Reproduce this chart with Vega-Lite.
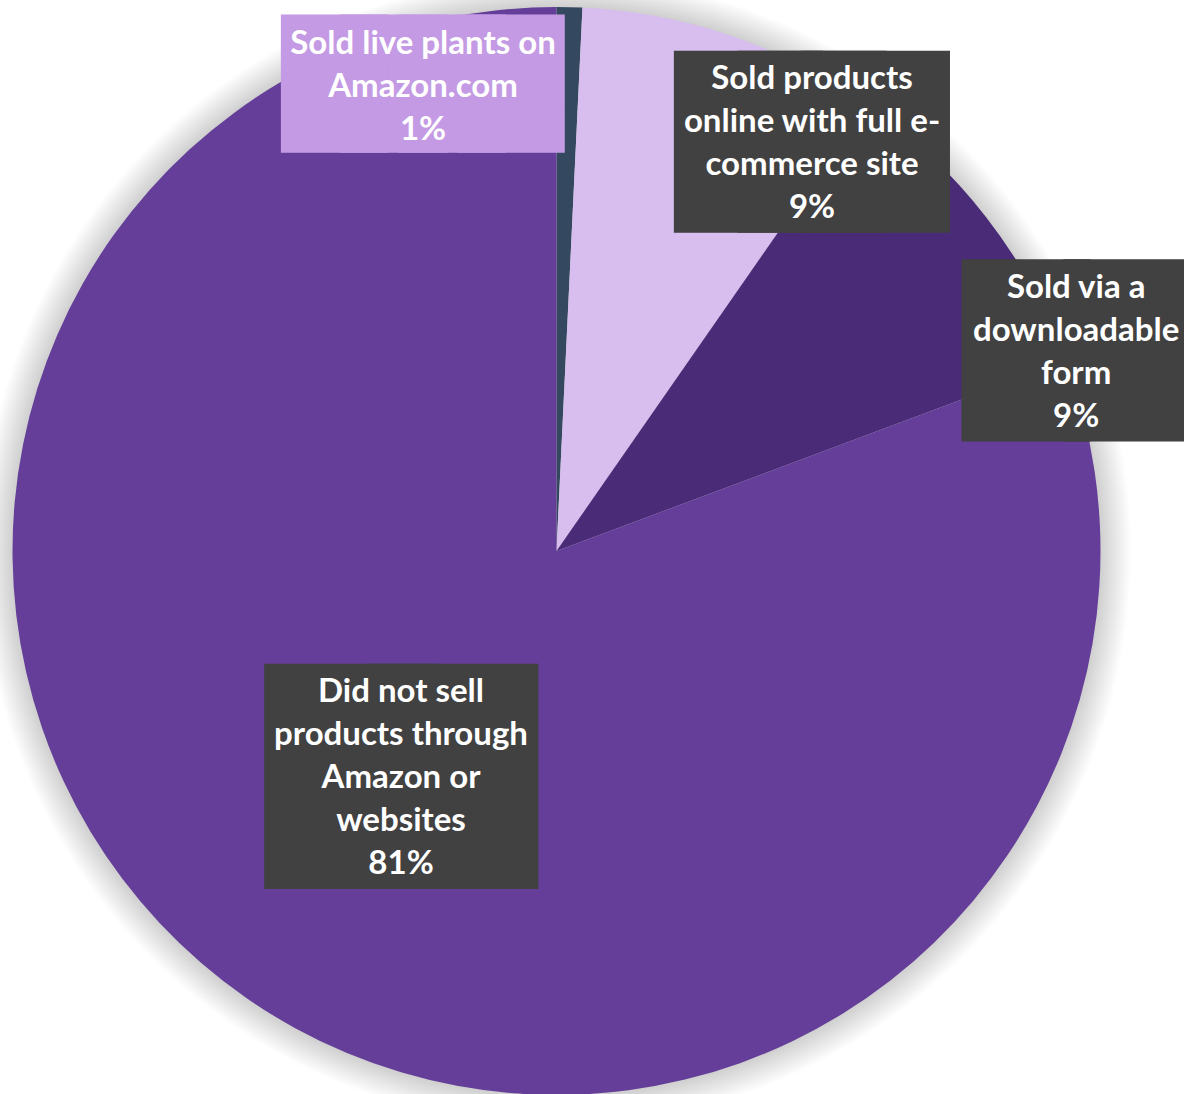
{
  "$schema": "https://vega.github.io/schema/vega-lite/v6.json",
  "autosize": "none",
  "width": 1113,
  "height": 1086,
  "padding": {"left": 0, "top": 8, "right": 71, "bottom": 0},
  "background": "#ffffff",
  "view": {"stroke": null},
  "data": {
    "values": [
      {"cat": "Sold live plants on Amazon.com", "label": "Sold live plants on\nAmazon.com\n1%", "value": 0.76, "rank": 1},
      {"cat": "Sold products online with full e-commerce site", "label": "Sold products\nonline with full e-\ncommerce site\n9%", "value": 8.91, "rank": 2},
      {"cat": "Sold via a downloadable form", "label": "Sold via a\ndownloadable\nform\n9%", "value": 9.64, "rank": 3},
      {"cat": "Did not sell products through Amazon or websites", "label": "Did not sell\nproducts through\nAmazon or\nwebsites\n81%", "value": 80.69, "rank": 4}
    ]
  },
  "layer": [
    {
      "transform": [{"filter": "datum.rank === 4"}],
      "mark": {"type": "arc", "theta": 0, "theta2": 6.2832, "radius": 575,
        "fill": {"gradient": "radial", "x1": 0.5, "y1": 0.5, "r1": 0, "x2": 0.5, "y2": 0.5, "r2": 0.5,
          "stops": [{"offset": 0, "color": "#c8c8c8"}, {"offset": 0.946, "color": "#cfcfcf"}, {"offset": 1, "color": "#ffffff"}]}},
      "encoding": {}
    },
    {
      "mark": {"type": "arc", "radius": 544, "stroke": null},
      "encoding": {
        "theta": {"field": "value", "type": "quantitative", "stack": true},
        "order": {"field": "rank", "type": "quantitative"},
        "color": {"field": "cat", "type": "nominal", "legend": null,
          "scale": {"domain": ["Sold live plants on Amazon.com", "Sold products online with full e-commerce site", "Sold via a downloadable form", "Did not sell products through Amazon or websites"],
            "range": ["#34485F", "#D7BEEE", "#4A2B78", "#643E99"]}}
      }
    },
    {
      "mark": {"type": "text", "radius": 466, "dx": -144.6, "dy": 1.7, "font": "DejaVu Sans", "fontSize": 76.4, "fill": "#C39AE3", "stroke": "#C39AE3", "strokeWidth": 47.4, "strokeJoin": "miter", "align": "center", "baseline": "middle"},
      "encoding": {
        "theta": {"field": "value", "type": "quantitative", "stack": true},
        "order": {"field": "rank", "type": "quantitative"},
        "text": {"condition": {"test": "datum.rank === 1", "value": "████"}, "value": ""}
      }
    },
    {
      "mark": {"type": "text", "radius": 432, "dx": 116.5, "dy": 3.1, "font": "DejaVu Sans", "fontSize": 82.7, "fill": "#414141", "stroke": "#414141", "strokeWidth": 83.9, "strokeJoin": "miter", "align": "center", "baseline": "middle"},
      "encoding": {
        "theta": {"field": "value", "type": "quantitative", "stack": true},
        "order": {"field": "rank", "type": "quantitative"},
        "text": {"condition": {"test": "datum.rank === 2", "value": "███"}, "value": ""}
      }
    },
    {
      "mark": {"type": "text", "radius": 327, "dx": 262.4, "dy": 5.2, "font": "DejaVu Sans", "fontSize": 132.6, "fill": "#414141", "stroke": "#414141", "strokeWidth": 24.7, "strokeJoin": "miter", "align": "center", "baseline": "middle"},
      "encoding": {
        "theta": {"field": "value", "type": "quantitative", "stack": true},
        "order": {"field": "rank", "type": "quantitative"},
        "text": {"condition": {"test": "datum.rank === 3", "value": "██"}, "value": ""}
      }
    },
    {
      "mark": {"type": "text", "radius": 275, "dx": 1.8, "dy": 5.2, "font": "DejaVu Sans", "fontSize": 132.6, "fill": "#414141", "stroke": "#414141", "strokeWidth": 67.7, "strokeJoin": "miter", "align": "center", "baseline": "middle"},
      "encoding": {
        "theta": {"field": "value", "type": "quantitative", "stack": true},
        "order": {"field": "rank", "type": "quantitative"},
        "text": {"condition": {"test": "datum.rank === 4", "value": "██"}, "value": ""}
      }
    },
    {
      "mark": {"type": "text", "radius": 466, "dx": -144.6, "dy": -41.1, "font": "Lato", "fontWeight": "bold", "fontSize": 33, "lineHeight": 43, "lineBreak": "\n", "fill": "#ffffff", "align": "center", "baseline": "middle"},
      "encoding": {
        "theta": {"field": "value", "type": "quantitative", "stack": true},
        "order": {"field": "rank", "type": "quantitative"},
        "text": {"condition": {"test": "datum.rank === 1", "field": "label"}, "value": ""}
      }
    },
    {
      "mark": {"type": "text", "radius": 432, "dx": 116.5, "dy": -63, "font": "Lato", "fontWeight": "bold", "fontSize": 33, "lineHeight": 43, "lineBreak": "\n", "fill": "#ffffff", "align": "center", "baseline": "middle"},
      "encoding": {
        "theta": {"field": "value", "type": "quantitative", "stack": true},
        "order": {"field": "rank", "type": "quantitative"},
        "text": {"condition": {"test": "datum.rank === 2", "field": "label"}, "value": ""}
      }
    },
    {
      "mark": {"type": "text", "radius": 327, "dx": 261.4, "dy": -62.4, "font": "Lato", "fontWeight": "bold", "fontSize": 33, "lineHeight": 43, "lineBreak": "\n", "fill": "#ffffff", "align": "center", "baseline": "middle"},
      "encoding": {
        "theta": {"field": "value", "type": "quantitative", "stack": true},
        "order": {"field": "rank", "type": "quantitative"},
        "text": {"condition": {"test": "datum.rank === 3", "field": "label"}, "value": ""}
      }
    },
    {
      "mark": {"type": "text", "radius": 275, "dx": 1.3, "dy": -84.9, "font": "Lato", "fontWeight": "bold", "fontSize": 33, "lineHeight": 43, "lineBreak": "\n", "fill": "#ffffff", "align": "center", "baseline": "middle"},
      "encoding": {
        "theta": {"field": "value", "type": "quantitative", "stack": true},
        "order": {"field": "rank", "type": "quantitative"},
        "text": {"condition": {"test": "datum.rank === 4", "field": "label"}, "value": ""}
      }
    }
  ]
}
